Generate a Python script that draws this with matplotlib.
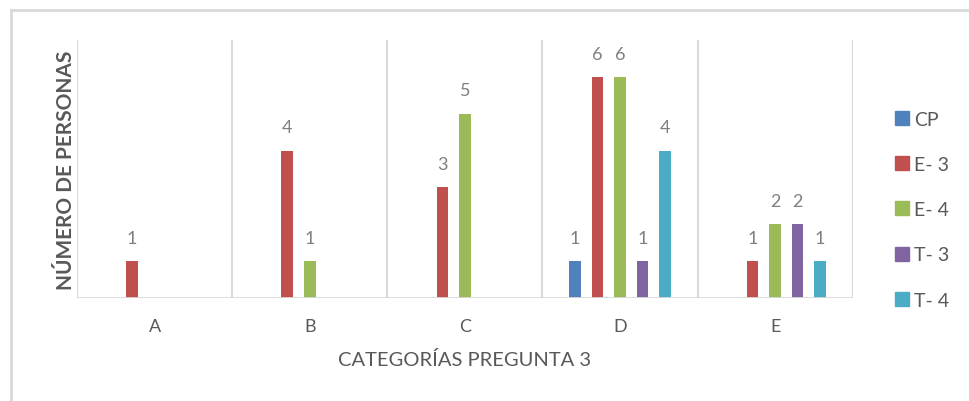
import numpy as np
import matplotlib
matplotlib.use("Agg")
import matplotlib.pyplot as plt
from matplotlib.lines import Line2D

plt.rcParams['font.family'] = ['Lato', 'DejaVu Sans']

categorias = ['A', 'B', 'C', 'D', 'E']
series = ['CP', 'E- 3', 'E- 4', 'T- 3', 'T- 4']
cp = [0, 0, 0, 1, 0]
e3 = [1, 4, 3, 6, 1]
e4 = [0, 1, 5, 6, 2]
t3 = [0, 0, 0, 1, 2]
t4 = [0, 0, 0, 4, 1]
colores = ['#4F81BD', '#C0504D', '#9BBB59', '#8064A2', '#4BACC6']

valores = [cp, e3, e4, t3, t4]
gris = '#595959'
rejilla = '#D9D9D9'

fig = plt.figure(figsize=(9.69, 4.02), dpi=100)
ax = fig.add_axes([0.0795, 0.256, 0.8005, 0.642])

x = np.arange(len(categorias))
paso = 0.145
ancho = 0.075
for i, (nombre, vals, col) in enumerate(zip(series, valores, colores)):
    pos = x + (i - 2) * paso
    ax.bar(pos, vals, width=ancho, color=col, label=nombre, zorder=3)
    for xp, v in zip(pos, vals):
        if v > 0:
            ax.annotate(str(v), (xp, v), xytext=(0, 11), textcoords='offset points',
                        ha='center', va='bottom', fontsize=13, color='#7F7F7F')

ax.set_xlim(-0.5, len(categorias) - 0.5)
ax.set_ylim(0, 7)
for b in np.arange(-0.5, len(categorias), 1):
    ax.axvline(b, color=rejilla, lw=1.5, zorder=1)
for s in ax.spines.values():
    s.set_visible(False)
ax.axhline(0, color=rejilla, lw=2, zorder=4)
ax.set_yticks([])
ax.set_xticks(x)
ax.set_xticklabels(categorias, fontsize=13, color=gris)
ax.tick_params(axis='x', length=0, pad=14)
ax.set_xlabel('CATEGORÍAS PREGUNTA 3', fontsize=14.5, color=gris, labelpad=12)
ax.set_ylabel('NÚMERO DE PERSONAS', fontsize=15, color=gris, fontweight='bold', labelpad=1)

handles = [Line2D([0], [0], marker='s', linestyle='none', markersize=10,
                  markerfacecolor=c, markeredgecolor=c) for c in colores]
leg = fig.legend(handles, series, loc='center left', bbox_to_anchor=(0.903, 0.476),
                 frameon=False, fontsize=14, labelcolor=gris, handletextpad=0.1,
                 labelspacing=1.45, handlelength=1.0)

# marco exterior del grafico
fig.add_artist(Line2D([0.0114, 0.0114], [0, 0.973], color='#D9D9D9', lw=2))
fig.add_artist(Line2D([0.0114, 1.0], [0.973, 0.973], color='#D9D9D9', lw=2))

fig.savefig('out.png', dpi=100)
